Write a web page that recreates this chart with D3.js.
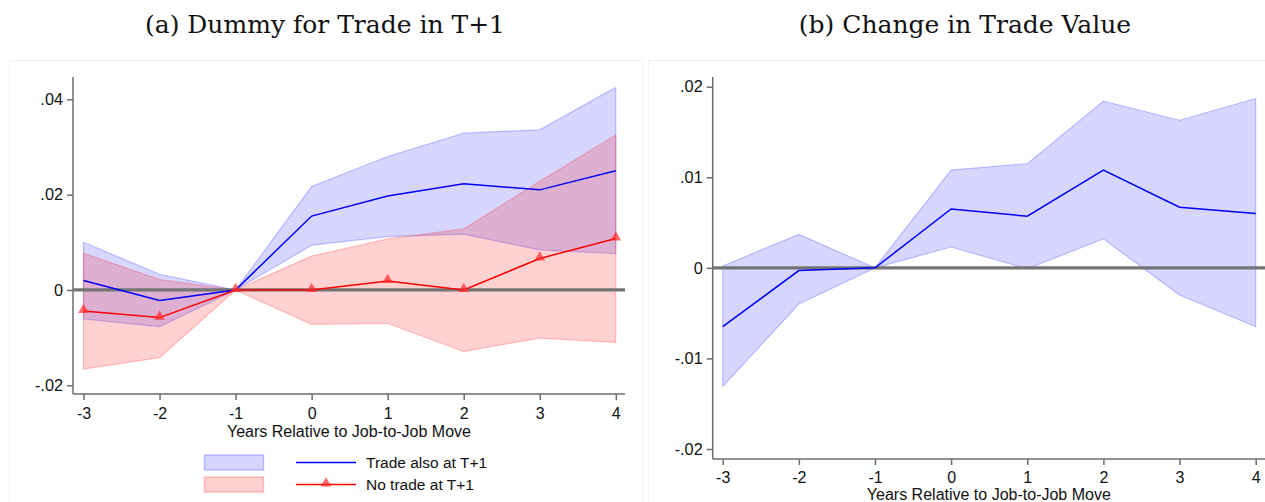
<!DOCTYPE html>
<html><head><meta charset="utf-8">
<script src="https://cdn.jsdelivr.net/npm/d3@7"></script>
<style>html,body{margin:0;padding:0;background:#fff;}svg{display:block;}</style>
</head><body>
<svg id="c" width="1265" height="502"></svg>
<script>
// ---- data ----
const years = [-3, -2, -1, 0, 1, 2, 3, 4];
const xTicks = [-3, -2, -1, 0, 1, 2, 3, 4];

// Panel (a): Dummy for Trade in T+1
const tradeAlso      = [0.0020, -0.0022, 0, 0.0155, 0.0197, 0.0223, 0.0210, 0.0250];
const tradeAlsoHi    = [0.0100, 0.0033, 0, 0.0217, 0.0280, 0.0329, 0.0336, 0.0425];
const tradeAlsoLo    = [-0.0061, -0.0077, 0, 0.0094, 0.0112, 0.0117, 0.0084, 0.0076];
const noTrade        = [-0.0044, -0.0058, 0, 0.0000, 0.0019, 0.0000, 0.0066, 0.0108];
const noTradeHi      = [0.0077, 0.0022, 0, 0.0071, 0.0107, 0.0128, 0.0228, 0.0325];
const noTradeLo      = [-0.0166, -0.0142, 0, -0.0072, -0.0070, -0.0129, -0.0101, -0.0110];
const yTicksA = [-0.02, 0, 0.02, 0.04];

// Panel (b): Change in Trade Value
const tradeValue   = [-0.0065, -0.0003, 0, 0.0065, 0.0057, 0.0108, 0.0067, 0.0060];
const tradeValueHi = [0.0002, 0.0037, 0, 0.0108, 0.0115, 0.0184, 0.0163, 0.0187];
const tradeValueLo = [-0.0131, -0.0040, 0, 0.0023, -0.0001, 0.0032, -0.0030, -0.0065];
const yTicksB = [-0.02, -0.01, 0, 0.01, 0.02];

const titles = ["(a) Dummy for Trade in T+1", "(b) Change in Trade Value"];
const xTitle = "Years Relative to Job-to-Job Move";
const legendLabels = ["Trade also at T+1", "No trade at T+1"];

// ---- styles ----
const blue = "#0000ff", red = "#ff0000";
const blueFill = "rgba(0,0,255,0.16)", blueEdge = "rgba(0,0,255,0.22)";
const redFill = "rgba(255,0,0,0.18)", redEdge = "rgba(255,0,0,0.22)";
const axisCol = "#6d6d6d";
const sans = "'Liberation Sans', Arial, sans-serif";
const serif = "'DejaVu Serif', 'Liberation Serif', serif";

const svg = d3.select("#c");
const stata = v => v === 0 ? "0" : (v < 0 ? "-" : "") + Math.abs(v).toFixed(2).replace(/^0/, "");
const intFmt = v => String(v);

function panel(cfg) {
  const g = svg.append("g");
  // panel frame
  g.append("rect").attr("x", cfg.frame[0]).attr("y", cfg.frame[1])
    .attr("width", cfg.frame[2]).attr("height", cfg.frame[3])
    .attr("fill", "#fff").attr("stroke", "#f2f2f2").attr("stroke-width", 1);
  // title
  g.append("text").attr("x", cfg.titleX).attr("y", 33).attr("text-anchor", "middle")
    .attr("font-family", serif).attr("font-size", 25).attr("fill", "#111")
    .text(cfg.title);

  const x = d3.scaleLinear().domain([-3, 4]).range(cfg.xr);
  const y = d3.scaleLinear().domain(cfg.yd).range(cfg.yr);

  const area = (lo, hi) => d3.area().x((d, i) => x(years[i]))
    .y0((d, i) => y(lo[i])).y1((d, i) => y(hi[i]))(years);
  const line = vals => d3.line().x((d, i) => x(years[i])).y((d, i) => y(vals[i]))(years);

  cfg.bands.forEach(b => {
    g.append("path").attr("d", area(b.lo, b.hi)).attr("fill", b.fill)
      .attr("stroke", b.edge).attr("stroke-width", 1.2);
  });

  // zero reference line
  g.append("line").attr("x1", cfg.axisX).attr("x2", cfg.xEnd)
    .attr("y1", y(0)).attr("y2", y(0)).attr("stroke", "#737373").attr("stroke-width", 3.2);

  cfg.lines.forEach(l => {
    g.append("path").attr("d", line(l.vals)).attr("fill", "none")
      .attr("stroke", l.color).attr("stroke-width", 1.5);
    if (l.marker) {
      g.selectAll(null).data(years).enter().append("path")
        .attr("d", d3.symbol(d3.symbolTriangle).size(50))
        .attr("transform", (d, i) => `translate(${x(d)},${y(l.vals[i]) - 1})`)
        .attr("fill", "rgba(255,40,40,0.7)");
    }
  });

  // y axis
  const ya = g.append("g").attr("transform", `translate(${cfg.axisX},0)`)
    .call(d3.axisLeft(y).tickValues(cfg.yTicks).tickSize(6).tickPadding(4).tickFormat(stata));
  ya.select(".domain").remove();
  ya.selectAll(".tick line").attr("stroke", axisCol).attr("stroke-width", 1.5);
  ya.selectAll(".tick text").attr("font-family", sans).attr("font-size", 16.3).attr("fill", "#111");
  g.append("line").attr("x1", cfg.axisX).attr("x2", cfg.axisX)
    .attr("y1", 77).attr("y2", cfg.axisY).attr("stroke", axisCol).attr("stroke-width", 1.5);

  // x axis
  const xa = g.append("g").attr("transform", `translate(0,${cfg.axisY})`)
    .call(d3.axisBottom(x).tickValues(xTicks).tickSize(6).tickPadding(cfg.xPad).tickFormat(intFmt));
  xa.select(".domain").remove();
  xa.selectAll(".tick line").attr("stroke", axisCol).attr("stroke-width", 1.5);
  xa.selectAll(".tick text").attr("font-family", sans).attr("font-size", 16).attr("fill", "#111");
  g.append("line").attr("x1", cfg.axisX).attr("x2", cfg.xEnd)
    .attr("y1", cfg.axisY).attr("y2", cfg.axisY).attr("stroke", axisCol).attr("stroke-width", 1.5);

  g.append("text").attr("x", (cfg.axisX + cfg.xEnd) / 2).attr("y", cfg.axisY + cfg.titleDy)
    .attr("text-anchor", "middle").attr("font-family", sans).attr("font-size", 16)
    .attr("fill", "#111").text(xTitle);
  return { x, y, g };
}

panel({
  frame: [9.5, 60.5, 633, 450], title: titles[0], titleX: 325,
  xr: [83.5, 615.8], yd: [-0.02, 0.04], yr: [385.3, 99.3],
  axisX: 73, axisY: 394, xEnd: 625, yTicks: yTicksA, titleDy: 42.5, xPad: 8,
  bands: [{ lo: tradeAlsoLo, hi: tradeAlsoHi, fill: blueFill, edge: blueEdge },
          { lo: noTradeLo, hi: noTradeHi, fill: redFill, edge: redEdge }],
  lines: [{ vals: tradeAlso, color: blue }, { vals: noTrade, color: red, marker: true }]
});

panel({
  frame: [648.5, 60.5, 630, 450], title: titles[1], titleX: 965,
  xr: [722.7, 1255.7], yd: [-0.02, 0.02], yr: [449, 86.7],
  axisX: 712.7, axisY: 459, xEnd: 1265, yTicks: yTicksB, titleDy: 40.5, xPad: 7,
  bands: [{ lo: tradeValueLo, hi: tradeValueHi, fill: blueFill, edge: blueEdge }],
  lines: [{ vals: tradeValue, color: blue }]
});

// legend
const lg = svg.append("g");
const legendItems = [
  { fill: blueFill, edge: blueEdge, color: blue, marker: false, label: legendLabels[0] },
  { fill: redFill, edge: redEdge, color: red, marker: true, label: legendLabels[1] }
];
legendItems.forEach((it, i) => {
  const cy = 462.5 + i * 22;
  lg.append("rect").attr("x", 204.5).attr("y", cy - 7.5).attr("width", 59).attr("height", 15)
    .attr("fill", it.fill).attr("stroke", it.edge).attr("stroke-width", 1.5);
  lg.append("line").attr("x1", 296).attr("x2", 356).attr("y1", cy).attr("y2", cy)
    .attr("stroke", it.color).attr("stroke-width", 1.5);
  if (it.marker) {
    lg.append("path").attr("d", d3.symbol(d3.symbolTriangle).size(50))
      .attr("transform", `translate(326,${cy - 1})`).attr("fill", "rgba(255,40,40,0.7)");
  }
  lg.append("text").attr("x", 366).attr("y", cy + 5.5).attr("font-family", sans)
    .attr("font-size", 15.5).attr("fill", "#111").text(it.label);
});
</script>
</body></html>
